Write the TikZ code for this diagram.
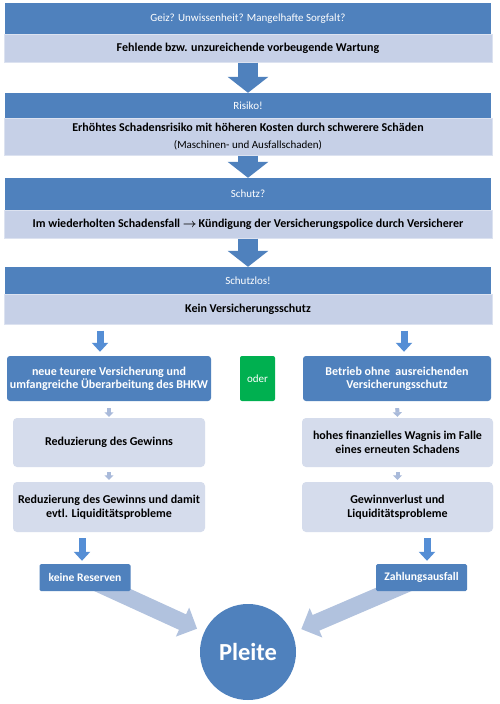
\documentclass[tikz,border=0pt]{standalone}
\usepackage{amsmath}
\usepackage{fontspec}
\setmainfont{Carlito}
\usetikzlibrary{arrows.meta,calc,backgrounds}
\definecolor{bandblue}{HTML}{4F81BD}
\definecolor{bandlight}{HTML}{C6D0E7}
\definecolor{bandedge}{HTML}{DCE2F0}
\definecolor{boxlight}{HTML}{D5DCEC}
\definecolor{arrowblue}{HTML}{558ED5}
\definecolor{arrowpale}{HTML}{A9BADA}
\definecolor{fatblue}{HTML}{B1C2DE}
\definecolor{odergreen}{HTML}{00B050}

\begin{document}
\begin{tikzpicture}[x=1pt,y=-1pt,
  font=\fontsize{11}{13}\selectfont,
  bandhead/.style={fill=bandblue,text=white,inner sep=0pt},
  bandbody/.style={fill=bandlight,draw=bandedge,line width=1pt,inner sep=0pt,font=\fontsize{12}{13.5}\selectfont\bfseries},
  darkbox/.style={fill=bandblue,text=white,rounded corners=3pt,inner sep=0pt,align=center,font=\fontsize{12}{13.3}\selectfont\bfseries},
  lightbox/.style={fill=boxlight,rounded corners=4pt,inner sep=0pt,align=center,font=\fontsize{12}{13.8}\selectfont\bfseries},
  endbox/.style={fill=bandblue,text=white,rounded corners=1.5pt,inner sep=0pt,minimum width=91pt,minimum height=27pt,font=\fontsize{11.6}{13}\selectfont\bfseries},
  bigarrow/.style={draw=bandblue,line width=20pt,-{Triangle[width=40pt,length=16pt]}},
  midarrow/.style={draw=arrowblue,line width=7pt,-{Triangle[width=16pt,length=9pt]}},
  tinyarrow/.style={draw=arrowpale,line width=4pt,-{Triangle[width=9pt,length=4.5pt]}},
  fatarrow/.style={draw=fatblue,line width=17pt,-{Triangle[width=31pt,length=16pt]}}]
\useasboundingbox (0,0) rectangle (500,704);
\begin{scope}[on background layer]
\fill[white] (0,0) rectangle (500,704);
\end{scope}

% Baender oben
\node[bandhead,minimum width=486pt,minimum height=31pt] (geiz) at (248,18.5) {Geiz? Unwissenheit? Mangelhafte Sorgfalt?};
\node[bandbody,minimum width=488pt,minimum height=28pt] (wartung) at (248,48) {Fehlende bzw. unzureichende vorbeugende Wartung};
\node[bandhead,minimum width=486pt,minimum height=25pt] (risiko) at (248,105.5) {Risiko!};
\node[bandbody,minimum width=488pt,minimum height=37pt,align=center] (schaden) at (248,136.5) {Erhöhtes Schadensrisiko mit höheren Kosten durch schwerere Schäden\\[4pt]\mdseries\fontsize{11}{13}\selectfont(Maschinen- und Ausfallschaden)};
\node[bandhead,minimum width=486pt,minimum height=32pt] (schutz) at (248,194) {Schutz?};
\node[bandbody,minimum width=488pt,minimum height=28pt] (kuendigung) at (248,224) {Im wiederholten Schadensfall $\boldsymbol{\rightarrow}$\,Kündigung der Versicherungspolice durch Versicherer};
\node[bandhead,minimum width=486pt,minimum height=27pt] (schutzlos) at (248,280.5) {Schutzlos!};
\node[bandbody,minimum width=488pt,minimum height=30pt] (keinschutz) at (248,309) {Kein Versicherungsschutz};

\draw[bigarrow] (wartung.south) -- (risiko.north);
\draw[bigarrow] (schaden.south) -- (schutz.north);
\draw[bigarrow] (kuendigung.south) -- (schutzlos.north);

% zwei Wege
\node[darkbox,minimum width=204pt,minimum height=45pt] (neuvers) at (109,378.5) {neue teurere Versicherung und\\umfangreiche Überarbeitung des BHKW};
\node[fill=odergreen,text=white,rounded corners=2pt,minimum width=35pt,minimum height=45pt,inner sep=0pt] (oder) at (257.5,378.5) {oder};
\node[darkbox,minimum width=188pt,minimum height=45pt] (ohnevers) at (397,378.5) {Betrieb ohne~ ausreichenden\\Versicherungsschutz};
\node[lightbox,minimum width=192pt,minimum height=49pt] (gewinn) at (109,442.5) {Reduzierung des Gewinns};
\node[lightbox,minimum width=191pt,minimum height=49pt] (wagnis) at (397.5,442.5) {hohes finanzielles Wagnis im Falle\\eines erneuten Schadens};
\node[lightbox,minimum width=192pt,minimum height=50pt] (liquid) at (109,507) {Reduzierung des Gewinns und damit\\evtl. Liquiditätsprobleme};
\node[lightbox,minimum width=191pt,minimum height=50pt] (verlust) at (397.5,507) {Gewinnverlust und\\Liquiditätsprobleme};
\node[endbox] (reserven) at (85,577.5) {keine Reserven};
\node[endbox] (zahlung) at (421.5,577.5) {Zahlungsausfall};
\node[circle,fill=bandblue,text=white,minimum size=96pt,inner sep=0pt,font=\fontsize{24.5}{28}\selectfont\bfseries] (pleite) at (248,652) {Pleite};

\coordinate (lx) at (100,0);
\coordinate (rx) at (404,0);
\coordinate (lx2) at (82,0);
\coordinate (rx2) at (427,0);
\draw[midarrow,shorten <=6pt,shorten >=4pt] (keinschutz.south -| lx) -- (neuvers.north -| lx);
\draw[midarrow,shorten <=6pt,shorten >=4pt] (keinschutz.south -| rx) -- (ohnevers.north -| rx);
\draw[tinyarrow,shorten <=7pt,shorten >=1pt] (neuvers.south) -- (gewinn.north);
\draw[tinyarrow,shorten <=7pt,shorten >=1pt] (ohnevers.south) -- (wagnis.north);
\draw[tinyarrow,shorten <=5pt,shorten >=2pt] (gewinn.south) -- (liquid.north);
\draw[tinyarrow,shorten <=5pt,shorten >=2pt] (wagnis.south) -- (verlust.north);
\draw[midarrow,shorten <=6pt,shorten >=3pt] (liquid.south -| lx2) -- (reserven.north -| lx2);
\draw[midarrow,shorten <=6pt,shorten >=3pt] (verlust.south -| rx2) -- (zahlung.north -| rx2);

\begin{scope}[on background layer]
\draw[fatarrow,shorten >=56pt] (reserven.center) -- (pleite.center);
\draw[fatarrow,shorten >=58pt] (zahlung.center) -- (pleite.center);
\end{scope}
\end{tikzpicture}
\end{document}
